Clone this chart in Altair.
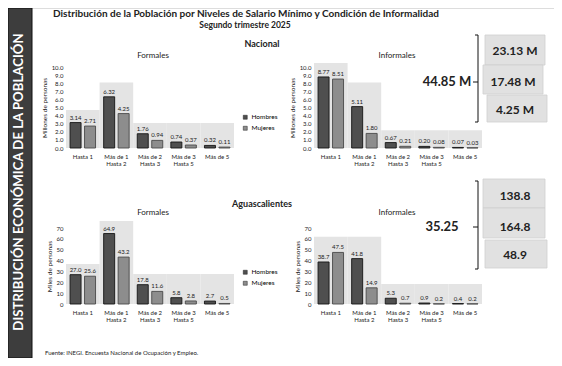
import altair as alt
import pandas as pd

# ---------------- data ----------------
cats = ["Hasta 1", "Más de 1\nHasta 2", "Más de 2\nHasta 3", "Más de 3\nHasta 5", "Más de 5"]
sexos = ["Hombres", "Mujeres"]

nac_for_h = [3.14, 6.32, 1.76, 0.74, 0.32]
nac_for_m = [2.71, 4.25, 0.94, 0.37, 0.11]
nac_inf_h = [8.77, 5.11, 0.67, 0.20, 0.07]
nac_inf_m = [8.51, 1.80, 0.21, 0.08, 0.03]
ags_for_h = [27.0, 64.9, 17.8, 5.8, 2.7]
ags_for_m = [25.6, 43.2, 11.6, 2.8, 0.5]
ags_inf_h = [38.7, 41.8, 5.3, 0.9, 0.4]
ags_inf_m = [47.5, 14.9, 0.7, 0.2, 0.2]

# shaded panels behind the bars (in the units of each chart)
nac_for_bg = [4.7, 8.1, 3.1, 3.1, 3.1]
nac_inf_bg = [10.5, 8.1, 2.2, 2.2, 2.2]
ags_for_bg = [36.8, 76.4, 27.6, 27.6, 27.6]
ags_inf_bg = [62.0, 62.0, 18.4, 18.4, 18.4]

nac_ticks = [0, 1, 2, 3, 4, 5, 6, 7, 8, 9, 10]
ags_ticks = [0, 10, 20, 30, 40, 50, 60, 70]

nac_total = "44.85 M"
nac_parts = ["23.13 M", "17.48 M", "4.25 M"]
ags_total = "35.25"
ags_parts = ["138.8", "164.8", "48.9"]

title_txt = "Distribución de la Población por Niveles de Salario Mínimo y Condición de Informalidad"
subtitle_txt = "Segundo trimestre 2025"
side_txt = "DISTRIBUCIÓN ECONÓMICA DE LA POBLACIÓN"
source_txt = "Fuente: INEGI. Encuesta Nacional de Ocupación y Empleo."

W, H = 546, 350
FONT = "Lato"
one = pd.DataFrame({"k": [0]})


def txt(s, x, y, size, weight="normal", color="#222", align="center", angle=0, baseline="middle"):
    return alt.Chart(one).mark_text(
        font=FONT, fontSize=size, fontWeight=weight, color=color,
        align=align, baseline=baseline, angle=angle
    ).encode(x=alt.value(x), y=alt.value(y), text=alt.value(s))


def rect(x, x2, y, y2, fill, stroke=None, sw=0.8):
    kw = dict(fill=fill)
    if stroke:
        kw.update(stroke=stroke, strokeWidth=sw)
    return alt.Chart(one).mark_rect(**kw).encode(
        x=alt.value(x), x2=alt.value(x2), y=alt.value(y), y2=alt.value(y2))


def rule(x, x2, y, y2, color="#111", sw=1):
    return alt.Chart(one).mark_rule(color=color, strokeWidth=sw).encode(
        x=alt.value(x), x2=alt.value(x2), y=alt.value(y), y2=alt.value(y2))


P_IN, P_OUT = 0.24, 0.28


def group(h, m, bg, ydom, yticks, yfmt, lblfmt, ytitle, xr, yr, legend):
    bars_df = pd.DataFrame({
        "cat": cats * 2,
        "sexo": [sexos[0]] * len(cats) + [sexos[1]] * len(cats),
        "valor": h + m,
    })
    bg_df = pd.DataFrame({"cat": cats, "alto": bg})
    xs = alt.Scale(domain=cats, range=xr, paddingInner=0, paddingOuter=0)
    ys = alt.Scale(domain=ydom, range=yr, nice=False, zero=True)
    xo = alt.Scale(domain=sexos, paddingInner=P_IN, paddingOuter=P_OUT)
    # distance from a category's centre to each bar's centre
    step_cat = (xr[1] - xr[0]) / len(cats)
    step_off = step_cat / (2 - P_IN + 2 * P_OUT)
    half = step_off / 2

    back = alt.Chart(bg_df).mark_bar(color="#e4e4e4").encode(
        x=alt.X("cat:N", scale=xs, axis=alt.Axis(
            orient="bottom", offset=-(H - yr[0]), title=None, domain=False, ticks=False,
            labelAngle=0, labelFontSize=6, labelPadding=5, labelColor="#222",
            labelExpr="split(datum.label, '\\n')", labelLineHeight=7,
            labelOverlap=False, zindex=1)),
        y=alt.Y("alto:Q", scale=ys, axis=alt.Axis(
            orient="left", offset=-xr[0], values=yticks, format=yfmt, title=ytitle,
            domain=False, ticks=False, grid=False, labelFontSize=6, labelPadding=3,
            labelColor="#222", titleFontSize=6.5, titleFontWeight="normal",
            titlePadding=4, titleColor="#222", zindex=1)),
    )
    bars = alt.Chart(bars_df).mark_bar(strokeWidth=0.9).encode(
        x=alt.X("cat:N", scale=xs, axis=None),
        xOffset=alt.XOffset("sexo:N", scale=xo),
        y=alt.Y("valor:Q", scale=ys, axis=None),
        color=alt.Color("sexo:N", scale=alt.Scale(domain=sexos, range=["#4f4f4f", "#8d8d8d"]),
                        legend=legend),
        stroke=alt.condition(alt.datum.sexo == "Hombres", alt.value("#151515"), alt.value("#4a4a4a")),
    )
    out = [back, bars]
    for sx, d in [(sexos[0], -half), (sexos[1], half)]:
        out.append(alt.Chart(bars_df).transform_filter(alt.datum.sexo == sx).mark_text(
            font=FONT, fontSize=6, dy=-5, dx=d, color="#1a1a1a", baseline="middle"
        ).encode(
            x=alt.X("cat:N", scale=xs, axis=None),
            y=alt.Y("valor:Q", scale=ys, axis=None),
            text=alt.Text("valor:Q", format=lblfmt),
        ))
    return out


def leg(x, y):
    return alt.Legend(orient="none", legendX=x, legendY=y, title=None, symbolType="square",
                      symbolSize=16, symbolStrokeColor="#222", symbolStrokeWidth=0.5,
                      labelFontSize=6.5, labelFont=FONT, rowPadding=4, padding=0, labelOffset=3)


layers = []
# side bar
layers.append(rect(0, 24, 0, 350, "#3d3d3d", "#111", 1))
layers.append(txt(side_txt, 11, 174, 13.2, "bold", "#ffffff", angle=270))
# titles
layers.append(txt(title_txt, 238, 1, 10, "bold", baseline="top"))
layers.append(txt(subtitle_txt, 237, 17, 8.5, "bold"))
layers.append(txt("Nacional", 254, 36, 9, "bold"))
layers.append(txt("Aguascalientes", 254, 196, 9, "bold"))
layers.append(txt("Formales", 145, 48, 8))
layers.append(txt("Informales", 389, 48, 8))
layers.append(txt("Formales", 145, 205, 8))
layers.append(txt("Informales", 389, 205, 8))
layers.append(txt(source_txt, 37, 345, 6, align="left"))

# charts
layers += group(nac_for_h, nac_for_m, nac_for_bg, [0, 10], nac_ticks, ".1f", ".2f",
                "Millones de personas", [58, 226], [140, 59], leg(234, 106))
layers += group(nac_inf_h, nac_inf_m, nac_inf_bg, [0, 10], nac_ticks, ".1f", ".2f",
                "Millones de personas", [306, 474], [140, 59], None)
layers += group(ags_for_h, ags_for_m, ags_for_bg, [0, 70], ags_ticks, "d", ".1f",
                "Miles de personas", [58, 226], [296, 220], leg(234, 261))
layers += group(ags_inf_h, ags_inf_m, ags_inf_bg, [0, 70], ags_ticks, "d", ".1f",
                "Miles de personas", [306, 474], [296, 220], None)

# totals, braces and boxes
boxes_top = [(477, 537, 27, 57), (475, 535, 57, 86), (479, 539, 87, 114)]
boxes_bot = [(475, 537, 171, 200), (475, 537, 200, 230), (477, 539, 232, 260)]
for (x, x2, y, y2) in boxes_top + boxes_bot:
    layers.append(rect(x, x2, y, y2, "#e1e1e1", "#cfcfcf", 0.8))
for s, (cx, cy) in zip(nac_parts, [(507, 43), (505, 74), (507, 102)]):
    layers.append(txt(s, cx, cy, 12, "bold"))
for s, (cx, cy) in zip(ags_parts, [(507, 188), (507, 219), (507, 247)]):
    layers.append(txt(s, cx, cy, 12, "bold"))
layers.append(txt(nac_total, 439, 74, 13, "bold"))
layers.append(txt(ags_total, 434, 219, 13, "bold"))
for (y0, ym, y1) in [(27, 74, 114), (173, 219, 261)]:
    layers.append(rule(470, 470, y0, y1))
    layers.append(rule(467, 470, y0, y0))
    layers.append(rule(467, 470, y1, y1))
    layers.append(rule(465, 470, ym, ym))

chart = alt.layer(*layers).resolve_scale(
    x="independent", y="independent", xOffset="independent", color="independent"
).resolve_axis(x="independent", y="independent").resolve_legend(color="independent").properties(
    width=W, height=H, autosize=alt.AutoSizeParams(type="none"), padding=0
).configure_view(stroke=None).configure(font=FONT)

chart.save("out.html", embed_options={"renderer": "svg", "actions": False})
